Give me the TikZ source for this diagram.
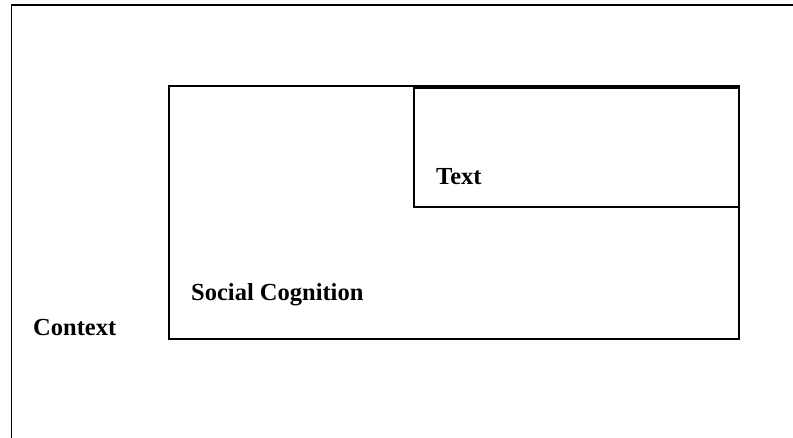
\documentclass[tikz,border=0pt]{standalone}
\usepackage{fontspec}
\setmainfont{Liberation Serif}
\begin{document}
\begin{tikzpicture}[x=1pt,y=1pt,
  box/.style={draw=black,line width=1.1pt,inner sep=0pt,outer sep=0pt},
  lbl/.style={font=\fontsize{24.5}{26}\selectfont\bfseries,inner sep=0pt,anchor=base west}]
\useasboundingbox (0,0) rectangle (793,438);
\clip (0,0) rectangle (793,438);
\draw[line width=1.5pt] (11.5,-20) -- (11.5,433) -- (820,433);
\node[box,minimum width=570pt,minimum height=253pt,anchor=south west] (sc) at (169,99) {};
\node[box,minimum width=325pt,minimum height=119pt,anchor=north east] (tx) at (739,350) {};
\draw[line width=2pt] (tx.north west) -- (tx.north east);
\node[lbl] (context) at (33,102) {Context};
\node[lbl] (social) at (191,137) {Social Cognition};
\node[lbl] (text) at (436,253) {Text};
\end{tikzpicture}
\end{document}
